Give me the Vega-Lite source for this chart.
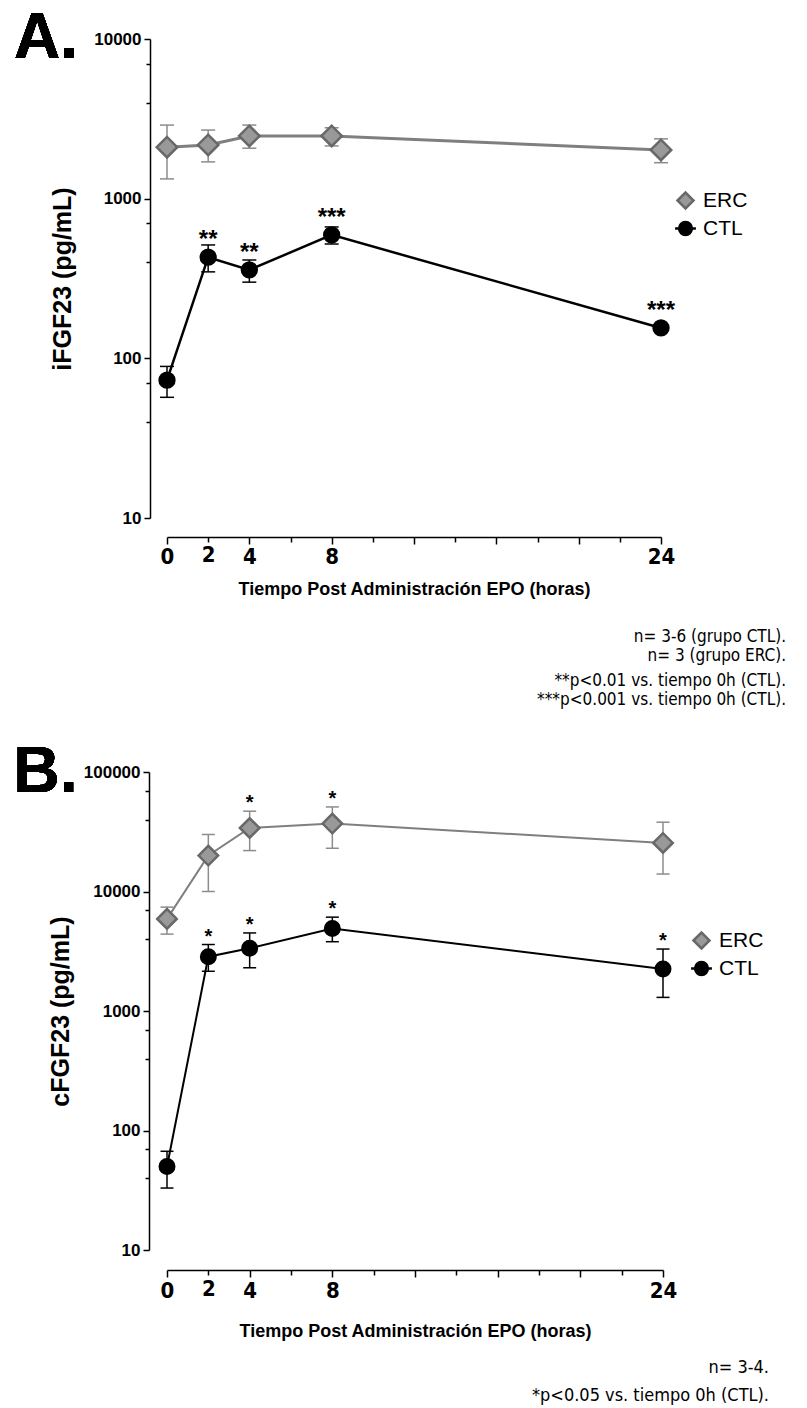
{
  "$schema": "https://vega.github.io/schema/vega-lite/v6.json",
  "background": "white",
  "padding": {"left": 13, "top": 7, "right": 5, "bottom": 3},
  "config": {"view": {"stroke": null}, "font": "Liberation Sans"},
  "datasets": {
    "d": [
      {"panel": "A", "g": "ERC", "t": 0, "v": 2100, "lo": 1330, "hi": 2890, "sig": ""},
      {"panel": "A", "g": "ERC", "t": 2, "v": 2170, "lo": 1700, "hi": 2690, "sig": ""},
      {"panel": "A", "g": "ERC", "t": 4, "v": 2470, "lo": 2070, "hi": 2890, "sig": ""},
      {"panel": "A", "g": "ERC", "t": 8, "v": 2470, "lo": 2140, "hi": 2780, "sig": ""},
      {"panel": "A", "g": "ERC", "t": 24, "v": 2020, "lo": 1680, "hi": 2370, "sig": ""},
      {"panel": "A", "g": "CTL", "t": 0, "v": 73, "lo": 57, "hi": 89, "sig": ""},
      {"panel": "A", "g": "CTL", "t": 2, "v": 430, "lo": 348, "hi": 513, "sig": "**"},
      {"panel": "A", "g": "CTL", "t": 4, "v": 358, "lo": 300, "hi": 413, "sig": "**"},
      {"panel": "A", "g": "CTL", "t": 8, "v": 593, "lo": 520, "hi": 665, "sig": "***"},
      {"panel": "A", "g": "CTL", "t": 24, "v": 155, "lo": 148, "hi": 162, "sig": "***"},
      {"panel": "B", "g": "ERC", "t": 0, "v": 5900, "lo": 4400, "hi": 7400, "sig": ""},
      {"panel": "B", "g": "ERC", "t": 2, "v": 20000, "lo": 10000, "hi": 30000, "sig": ""},
      {"panel": "B", "g": "ERC", "t": 4, "v": 34000, "lo": 22000, "hi": 47000, "sig": "*"},
      {"panel": "B", "g": "ERC", "t": 8, "v": 37000, "lo": 23000, "hi": 51000, "sig": "*"},
      {"panel": "B", "g": "ERC", "t": 24, "v": 25500, "lo": 14000, "hi": 38000, "sig": ""},
      {"panel": "B", "g": "CTL", "t": 0, "v": 50, "lo": 33, "hi": 67, "sig": ""},
      {"panel": "B", "g": "CTL", "t": 2, "v": 2850, "lo": 2150, "hi": 3600, "sig": "*"},
      {"panel": "B", "g": "CTL", "t": 4, "v": 3350, "lo": 2300, "hi": 4500, "sig": "*"},
      {"panel": "B", "g": "CTL", "t": 8, "v": 4900, "lo": 3800, "hi": 6100, "sig": "*"},
      {"panel": "B", "g": "CTL", "t": 24, "v": 2250, "lo": 1300, "hi": 3300, "sig": "*"}
    ]
  },
  "spacing": 32,
  "resolve": {"scale": {"shape": "independent", "fill": "independent", "stroke": "independent"}, "legend": {"shape": "independent", "fill": "independent", "stroke": "independent"}},
  "vconcat": [
    {
      "width": 494,
      "height": 479,
      "title": {
        "text": ["n= 3-6 (grupo CTL).", "n= 3 (grupo ERC)."],
        "subtitle": ["**p<0.01 vs. tiempo 0h (CTL).", "***p<0.001 vs. tiempo 0h (CTL)."],
        "orient": "bottom", "anchor": "end", "frame": "group", "dx": 125, "offset": 31,
        "font": "Liberation Sans Narrow, DejaVu Sans Condensed, sans-serif", "fontSize": 17, "fontWeight": "normal", "lineHeight": 19, "color": "black",
        "subtitleFont": "Liberation Sans Narrow, DejaVu Sans Condensed, sans-serif", "subtitleFontSize": 17, "subtitleLineHeight": 19, "subtitlePadding": 8, "subtitleColor": "black"
      },
      "data": {"name": "d"},
      "transform": [{"filter": "datum.panel === 'A'"}],
      "layer": [
        {
          "transform": [{"filter": "datum.g === 'ERC'"}],
          "mark": {"type": "rule", "color": "#8c8c8c", "strokeWidth": 1.5},
          "encoding": {
            "x": {"field": "t", "type": "quantitative", "scale": {"domain": [0, 24], "nice": false, "zero": false},
              "axis": {"title": "Tiempo Post Administración EPO (horas)", "values": [0, 2, 4, 6, 8, 10, 12, 14, 16, 18, 20, 22, 24],
                "labelExpr": "indexof([0,2,4,8,24], datum.value) >= 0 ? datum.label : ''",
                "offset": 19, "grid": false, "domainColor": "black", "domainWidth": 1.5, "tickColor": "black", "tickWidth": 1.5,
                "tickSize": {"condition": {"test": "datum.value % 4 === 0", "value": 7}, "value": 5},
                "labelFont": "Liberation Sans Narrow, DejaVu Sans Condensed, sans-serif", "labelFontWeight": "bold", "labelFontSize": 22, "labelColor": "black", "labelPadding": 2, "labelFlush": false,
                "titleFont": "Liberation Sans", "titleFontSize": 18, "titleFontWeight": "bold", "titleColor": "black", "titlePadding": 13}},
            "y": {"field": "lo", "type": "quantitative", "scale": {"type": "log", "domain": [10, 10000], "nice": false},
              "axis": {"title": "iFGF23 (pg/mL)", "values": [10, 40, 70, 100, 400, 700, 1000, 4000, 7000, 10000], "format": "d",
                "labelExpr": "indexof([10,100,1000,10000], datum.value) >= 0 ? datum.label : ''",
                "offset": 17, "grid": false, "domainColor": "black", "domainWidth": 1.5, "tickColor": "black", "tickWidth": 1.5,
                "tickSize": {"condition": {"test": "indexof([10,100,1000,10000], datum.value) >= 0", "value": 6}, "value": 4},
                "labelFont": "Liberation Sans", "labelFontWeight": "bold", "labelFontSize": 17, "labelColor": "black", "labelPadding": 3,
                "titleFont": "Liberation Sans", "titleFontSize": 25, "titleFontWeight": "bold", "titleColor": "black", "titlePadding": 18}},
            "y2": {"field": "hi"}
          }
        },
        {
          "transform": [{"filter": "datum.g === 'ERC'"}, {"fold": ["lo", "hi"], "as": ["k", "cap"]}],
          "mark": {"type": "point", "shape": "stroke", "size": 196, "strokeWidth": 1.5, "color": "#8c8c8c", "filled": false, "opacity": 1},
          "encoding": {"x": {"field": "t", "type": "quantitative"}, "y": {"field": "cap", "type": "quantitative"}}
        },
        {
          "transform": [{"filter": "datum.g === 'ERC'"}],
          "mark": {"type": "line", "color": "#7f7f7f", "strokeWidth": 3},
          "encoding": {"x": {"field": "t", "type": "quantitative"}, "y": {"field": "v", "type": "quantitative"}}
        },
        {
          "transform": [{"filter": "datum.g === 'CTL'"}],
          "mark": {"type": "rule", "color": "black", "strokeWidth": 1.5},
          "encoding": {"x": {"field": "t", "type": "quantitative"}, "y": {"field": "lo", "type": "quantitative"}, "y2": {"field": "hi"}}
        },
        {
          "transform": [{"filter": "datum.g === 'CTL'"}, {"fold": ["lo", "hi"], "as": ["k", "cap"]}],
          "mark": {"type": "point", "shape": "stroke", "size": 196, "strokeWidth": 1.5, "color": "black", "filled": false, "opacity": 1},
          "encoding": {"x": {"field": "t", "type": "quantitative"}, "y": {"field": "cap", "type": "quantitative"}}
        },
        {
          "transform": [{"filter": "datum.g === 'CTL'"}],
          "mark": {"type": "line", "color": "black", "strokeWidth": 2.5},
          "encoding": {"x": {"field": "t", "type": "quantitative"}, "y": {"field": "v", "type": "quantitative"}}
        },
        {
          "transform": [{"filter": "datum.g === 'ERC'"}],
          "mark": {"type": "point", "filled": true, "opacity": 1, "strokeWidth": 2.5, "size": 420},
          "encoding": {
            "x": {"field": "t", "type": "quantitative"},
            "y": {"field": "v", "type": "quantitative"},
            "shape": {"field": "g", "type": "nominal", "scale": {"domain": ["ERC", "CTL"], "range": ["diamond", "M-1.3,0L1.3,0M-0.8,0A0.8,0.8,0,1,1,0.8,0A0.8,0.8,0,1,1,-0.8,0Z"]},
              "legend": {"title": null, "orient": "none", "legendX": 508, "legendY": 151, "direction": "vertical", "padding": 0,
                "labelFont": "Liberation Sans", "labelFontSize": 21, "labelColor": "black", "labelOffset": 7,
                "symbolSize": 256, "symbolStrokeWidth": 2.5, "rowPadding": 3}},
            "fill": {"field": "g", "type": "nominal", "scale": {"domain": ["ERC", "CTL"], "range": ["#999999", "#000000"]}},
            "stroke": {"field": "g", "type": "nominal", "scale": {"domain": ["ERC", "CTL"], "range": ["#686868", "#000000"]}}
          }
        },
        {
          "transform": [{"filter": "datum.g === 'CTL'"}],
          "mark": {"type": "point", "shape": "circle", "filled": true, "opacity": 1, "strokeWidth": 2.5, "size": 220},
          "encoding": {
            "x": {"field": "t", "type": "quantitative"},
            "y": {"field": "v", "type": "quantitative"},
            "fill": {"field": "g", "type": "nominal"},
            "stroke": {"field": "g", "type": "nominal"}
          }
        },
        {
          "transform": [{"filter": "datum.sig != ''"}],
          "mark": {"type": "text", "fontSize": 24, "fontWeight": "bold", "baseline": "alphabetic", "dy": -10, "color": "black"},
          "encoding": {"x": {"field": "t", "type": "quantitative"}, "y": {"field": "v", "type": "quantitative"}, "text": {"field": "sig"}}
        },
        {
          "mark": {"type": "text", "text": "A.", "fontSize": 64, "fontWeight": "bold", "font": "Liberation Sans", "align": "left", "baseline": "alphabetic", "color": "black"},
          "encoding": {"x": {"datum": -7.43, "type": "quantitative"}, "y": {"datum": 7600, "type": "quantitative"}}
        }
      ]
    },
    {
      "width": 496,
      "height": 478,
      "title": {
        "text": "n= 3-4.",
        "subtitle": "*p<0.05 vs. tiempo 0h (CTL).",
        "orient": "bottom", "anchor": "end", "frame": "group", "dx": 106, "offset": 19,
        "font": "Liberation Sans Narrow, DejaVu Sans Condensed, sans-serif", "fontSize": 18, "fontWeight": "normal", "color": "black",
        "subtitleFont": "Liberation Sans Narrow, DejaVu Sans Condensed, sans-serif", "subtitleFontSize": 18, "subtitlePadding": 10, "subtitleColor": "black"
      },
      "data": {"name": "d"},
      "transform": [{"filter": "datum.panel === 'B'"}],
      "layer": [
        {
          "transform": [{"filter": "datum.g === 'ERC'"}],
          "mark": {"type": "rule", "color": "#8c8c8c", "strokeWidth": 1.5},
          "encoding": {
            "x": {"field": "t", "type": "quantitative", "scale": {"domain": [0, 24], "nice": false, "zero": false},
              "axis": {"title": "Tiempo Post Administración EPO (horas)", "values": [0, 2, 4, 6, 8, 10, 12, 14, 16, 18, 20, 22, 24],
                "labelExpr": "indexof([0,2,4,8,24], datum.value) >= 0 ? datum.label : ''",
                "offset": 20, "grid": false, "domainColor": "black", "domainWidth": 1.5, "tickColor": "black", "tickWidth": 1.5,
                "tickSize": {"condition": {"test": "datum.value % 4 === 0", "value": 7}, "value": 5},
                "labelFont": "Liberation Sans Narrow, DejaVu Sans Condensed, sans-serif", "labelFontWeight": "bold", "labelFontSize": 22, "labelColor": "black", "labelPadding": 3, "labelFlush": false,
                "titleFont": "Liberation Sans", "titleFontSize": 18, "titleFontWeight": "bold", "titleColor": "black", "titlePadding": 21}},
            "y": {"field": "lo", "type": "quantitative", "scale": {"type": "log", "domain": [10, 100000], "nice": false},
              "axis": {"title": "cFGF23 (pg/mL)", "values": [10, 40, 70, 100, 400, 700, 1000, 4000, 7000, 10000, 40000, 70000, 100000], "format": "d",
                "labelExpr": "indexof([10,100,1000,10000,100000], datum.value) >= 0 ? datum.label : ''",
                "offset": 18, "grid": false, "domainColor": "black", "domainWidth": 1.5, "tickColor": "black", "tickWidth": 1.5,
                "tickSize": {"condition": {"test": "indexof([10,100,1000,10000,100000], datum.value) >= 0", "value": 6}, "value": 4},
                "labelFont": "Liberation Sans", "labelFontWeight": "bold", "labelFontSize": 17, "labelColor": "black", "labelPadding": 3,
                "titleFont": "Liberation Sans", "titleFontSize": 25, "titleFontWeight": "bold", "titleColor": "black", "titlePadding": 10}},
            "y2": {"field": "hi"}
          }
        },
        {
          "transform": [{"filter": "datum.g === 'ERC'"}, {"fold": ["lo", "hi"], "as": ["k", "cap"]}],
          "mark": {"type": "point", "shape": "stroke", "size": 169, "strokeWidth": 1.5, "color": "#8c8c8c", "filled": false, "opacity": 1},
          "encoding": {"x": {"field": "t", "type": "quantitative"}, "y": {"field": "cap", "type": "quantitative"}}
        },
        {
          "transform": [{"filter": "datum.g === 'ERC'"}],
          "mark": {"type": "line", "color": "#7f7f7f", "strokeWidth": 2},
          "encoding": {"x": {"field": "t", "type": "quantitative"}, "y": {"field": "v", "type": "quantitative"}}
        },
        {
          "transform": [{"filter": "datum.g === 'CTL'"}],
          "mark": {"type": "rule", "color": "black", "strokeWidth": 1.5},
          "encoding": {"x": {"field": "t", "type": "quantitative"}, "y": {"field": "lo", "type": "quantitative"}, "y2": {"field": "hi"}}
        },
        {
          "transform": [{"filter": "datum.g === 'CTL'"}, {"fold": ["lo", "hi"], "as": ["k", "cap"]}],
          "mark": {"type": "point", "shape": "stroke", "size": 169, "strokeWidth": 1.5, "color": "black", "filled": false, "opacity": 1},
          "encoding": {"x": {"field": "t", "type": "quantitative"}, "y": {"field": "cap", "type": "quantitative"}}
        },
        {
          "transform": [{"filter": "datum.g === 'CTL'"}],
          "mark": {"type": "line", "color": "black", "strokeWidth": 2},
          "encoding": {"x": {"field": "t", "type": "quantitative"}, "y": {"field": "v", "type": "quantitative"}}
        },
        {
          "transform": [{"filter": "datum.g === 'ERC'"}],
          "mark": {"type": "point", "filled": true, "opacity": 1, "strokeWidth": 2.5, "size": 380},
          "encoding": {
            "x": {"field": "t", "type": "quantitative"},
            "y": {"field": "v", "type": "quantitative"},
            "shape": {"field": "g", "type": "nominal", "scale": {"domain": ["ERC", "CTL"], "range": ["diamond", "M-1.3,0L1.3,0M-0.8,0A0.8,0.8,0,1,1,0.8,0A0.8,0.8,0,1,1,-0.8,0Z"]},
              "legend": {"title": null, "orient": "none", "legendX": 524, "legendY": 158, "direction": "vertical", "padding": 0,
                "labelFont": "Liberation Sans", "labelFontSize": 21, "labelColor": "black", "labelOffset": 7,
                "symbolSize": 256, "symbolStrokeWidth": 2.5, "rowPadding": 3}},
            "fill": {"field": "g", "type": "nominal", "scale": {"domain": ["ERC", "CTL"], "range": ["#999999", "#000000"]}},
            "stroke": {"field": "g", "type": "nominal", "scale": {"domain": ["ERC", "CTL"], "range": ["#686868", "#000000"]}}
          }
        },
        {
          "transform": [{"filter": "datum.g === 'CTL'"}],
          "mark": {"type": "point", "shape": "circle", "filled": true, "opacity": 1, "strokeWidth": 2.5, "size": 210},
          "encoding": {
            "x": {"field": "t", "type": "quantitative"},
            "y": {"field": "v", "type": "quantitative"},
            "fill": {"field": "g", "type": "nominal"},
            "stroke": {"field": "g", "type": "nominal"}
          }
        },
        {
          "transform": [{"filter": "datum.sig != ''"}],
          "mark": {"type": "text", "fontSize": 20, "fontWeight": "bold", "baseline": "alphabetic", "dy": -2, "color": "black"},
          "encoding": {"x": {"field": "t", "type": "quantitative"}, "y": {"field": "hi", "type": "quantitative"}, "text": {"field": "sig"}}
        },
        {
          "mark": {"type": "text", "text": "B.", "fontSize": 64, "fontWeight": "bold", "font": "Liberation Sans", "align": "left", "baseline": "alphabetic", "color": "black"},
          "encoding": {"x": {"datum": -7.43, "type": "quantitative"}, "y": {"datum": 68100, "type": "quantitative"}}
        }
      ]
    }
  ]
}
